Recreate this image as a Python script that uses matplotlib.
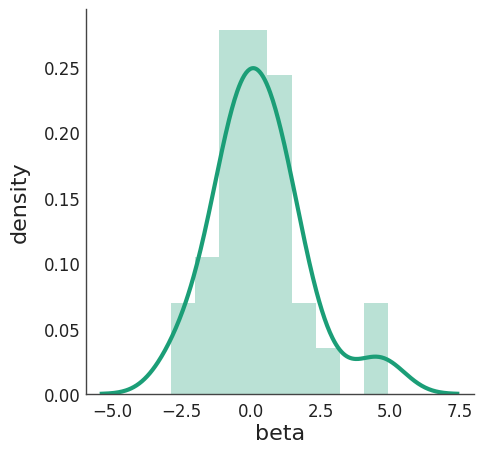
import numpy as np
import matplotlib
matplotlib.use("Agg")
import matplotlib.pyplot as plt

# sample values
beta = [-2.90, -2.30,
        -1.85, -1.50, -1.25,
        -1.05, -0.92, -0.80, -0.68, -0.57, -0.47, -0.38, -0.31,
        -0.22, -0.08, 0.03, 0.15, 0.28, 0.40, 0.50, 0.57,
        0.70, 0.85, 0.95, 1.10, 1.25, 1.35, 1.44,
        1.70, 2.05,
        2.70,
        4.30, 4.94]
n_bins = 9
x_ticks = [-5.0, -2.5, 0.0, 2.5, 5.0, 7.5]
y_ticks = [0.00, 0.05, 0.10, 0.15, 0.20, 0.25]

plt.rcParams['font.family'] = ['DejaVu Sans']
data = np.asarray(beta)

fig = plt.figure(figsize=(4.84, 4.56), dpi=100)
ax = fig.add_axes([0.1777, 0.1338, 0.979 - 0.1777, 0.978 - 0.1338])

ax.hist(data, bins=n_bins, density=True, color='#1b9e77', alpha=0.3, edgecolor='none')

# gaussian KDE, Scott factor (scipy style), cut = 3
n = len(data)
bw = np.std(data, ddof=1) * n ** (-0.2)
grid = np.linspace(data.min() - 3 * bw, data.max() + 3 * bw, 400)
dens = np.exp(-0.5 * ((grid[:, None] - data[None, :]) / bw) ** 2).sum(axis=1) / (n * bw * np.sqrt(2 * np.pi))
ax.plot(grid, dens, color='#1b9e77', lw=3)

ax.set_xlim(-5.95, 8.02)
ax.set_ylim(0, 0.294)
ax.set_xticks(x_ticks)
ax.set_yticks(y_ticks)
ax.set_xticklabels([f"{v:.1f}".replace('-', '\u2212') for v in x_ticks])
ax.set_yticklabels([f"{v:.2f}" for v in y_ticks])
ax.tick_params(length=0, labelsize=12, colors='#222222')
ax.tick_params(axis='y', pad=4)
ax.tick_params(axis='x', pad=6)
for s in ['top', 'right']:
    ax.spines[s].set_visible(False)
for s in ['left', 'bottom']:
    ax.spines[s].set_color('#444444')
    ax.spines[s].set_linewidth(1)
ax.set_xlabel('beta', fontsize=16, color='#222222', labelpad=2)
ax.set_ylabel('density', fontsize=16, color='#222222', labelpad=10)

fig.savefig('out.png', dpi=100)
